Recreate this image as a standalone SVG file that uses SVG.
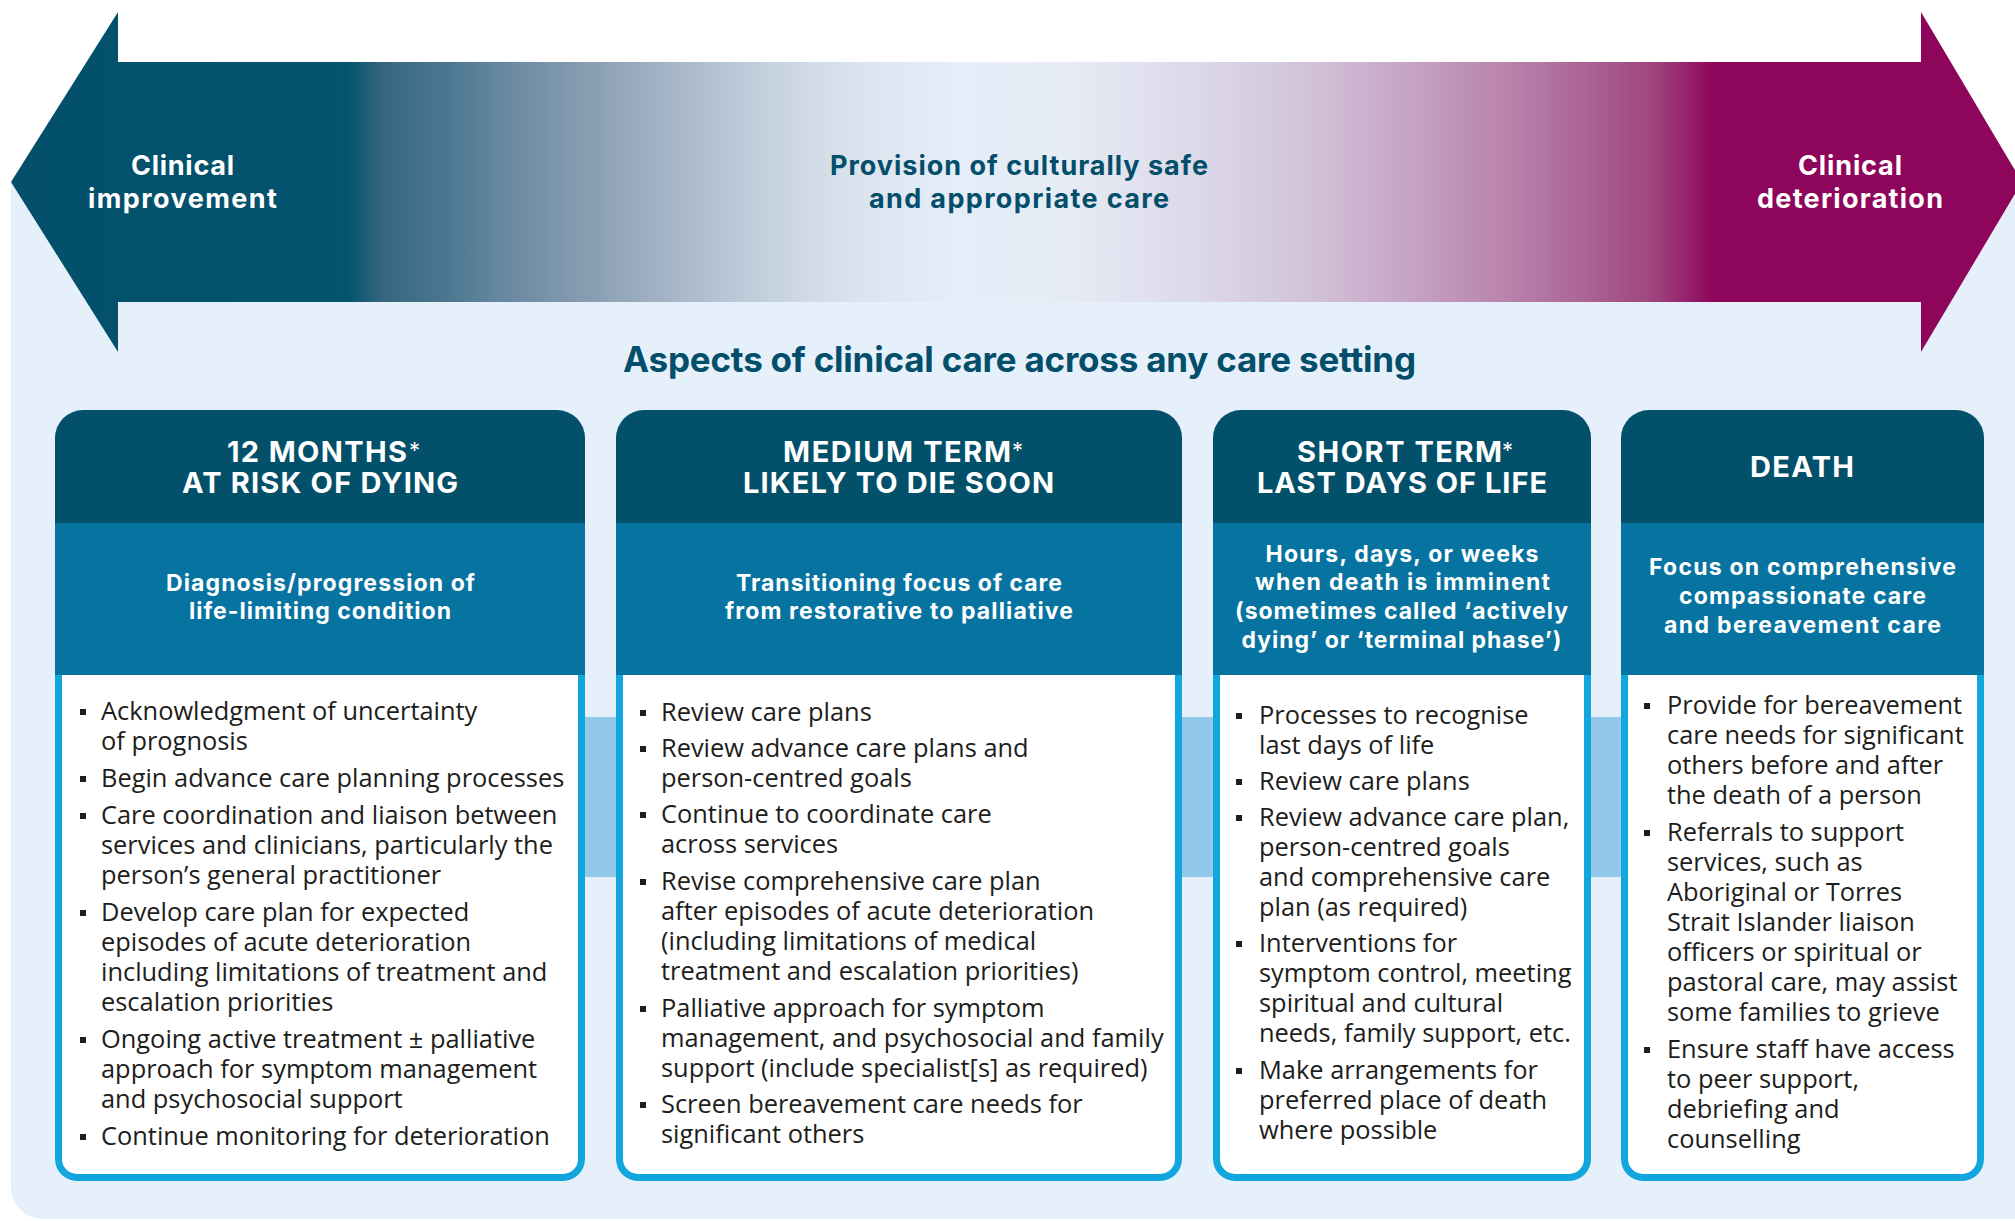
<svg xmlns="http://www.w3.org/2000/svg" width="2015" height="1221" viewBox="0 0 2015 1221">
<defs>
<linearGradient id="band" gradientUnits="userSpaceOnUse" x1="0" y1="0" x2="2015" y2="0">
<stop offset="0" stop-color="#034f69"/>
<stop offset="0.1727" stop-color="#03546f"/>
<stop offset="0.19" stop-color="#36677f"/>
<stop offset="0.2213" stop-color="#4c7690"/>
<stop offset="0.2531" stop-color="#6a8aa2"/>
<stop offset="0.2849" stop-color="#8399ae"/>
<stop offset="0.3166" stop-color="#9aabbf"/>
<stop offset="0.3484" stop-color="#b0bfcf"/>
<stop offset="0.3797" stop-color="#c5d0de"/>
<stop offset="0.4114" stop-color="#d5dfea"/>
<stop offset="0.4432" stop-color="#dfe7f2"/>
<stop offset="0.4749" stop-color="#e5edf8"/>
<stop offset="0.5285" stop-color="#e6ecf6"/>
<stop offset="0.5603" stop-color="#e2e3f0"/>
<stop offset="0.5926" stop-color="#dcd9e9"/>
<stop offset="0.6248" stop-color="#d6cde0"/>
<stop offset="0.6571" stop-color="#d0bfd6"/>
<stop offset="0.6888" stop-color="#c9aacb"/>
<stop offset="0.7211" stop-color="#c095b9"/>
<stop offset="0.7533" stop-color="#b77fa9"/>
<stop offset="0.7851" stop-color="#ab6596"/>
<stop offset="0.8174" stop-color="#a04880"/>
<stop offset="0.8337" stop-color="#982b70"/>
<stop offset="0.8496" stop-color="#8e065c"/>
<stop offset="1" stop-color="#8e065c"/>
</linearGradient>
<style>
.hd{fill:#03506a}
.sub{fill:#0673a0}
.brd{fill:#11a7de}
.wht{fill:#ffffff}
.cn{fill:#93c8eb}
.bul{fill:#1d1d1b}
.h1{font-family:Inter,"Liberation Sans",sans-serif;font-weight:700;font-size:29px;fill:#ffffff;text-anchor:middle}
.ast{font-family:Inter,"Liberation Sans",sans-serif;font-weight:400;font-size:22px;fill:#ffffff}
.h2{font-family:Inter,"Liberation Sans",sans-serif;font-weight:700;font-size:23px;fill:#ffffff;text-anchor:middle}
.body{font-family:"Open Sans","Liberation Sans",sans-serif;font-size:25.4px;fill:#1d1d1b}
.arw{font-family:Inter,"Liberation Sans",sans-serif;font-weight:700;font-size:27px;fill:#ffffff;text-anchor:middle}
.mid{font-family:Inter,"Liberation Sans",sans-serif;font-weight:700;font-size:27px;fill:#034e6a;text-anchor:middle}
.ttl{font-family:Inter,"Liberation Sans",sans-serif;font-weight:700;font-size:35px;fill:#034e6a;text-anchor:middle}
</style>
</defs>
<rect x="0" y="0" width="2015" height="1221" fill="#ffffff"/>
<path id="panel" d="M11,182 H2015 V1219 H43 A32 32 0 0 1 11,1187 Z" fill="#e6f0fa"/>

<g id="arrow">
<polygon points="11,182 118,12 118,62 1921,62 1921,12 2022,182 1921,352 1921,302 118,302 118,352" fill="url(#band)"/>
<text class="arw"><tspan x="182.5" y="175" textLength="103">Clinical</tspan><tspan x="182.5" y="208" textLength="189">improvement</tspan></text>
<text class="mid"><tspan x="1019" y="175" textLength="378">Provision of culturally safe</tspan><tspan x="1019" y="208" textLength="300">and appropriate care</tspan></text>
<text class="arw"><tspan x="1850" y="175" textLength="104">Clinical</tspan><tspan x="1850" y="208" textLength="186">deterioration</tspan></text>
</g>

<text id="title" class="ttl" x="1019.5" y="372" textLength="793">Aspects of clinical care across any care setting</text>

<g id="connectors">
<rect class="cn" x="580" y="717" width="41" height="160"/>
<rect class="cn" x="1177" y="717" width="41" height="160"/>
<rect class="cn" x="1586" y="717" width="40" height="160"/>
</g>

<g id="card1">
<path class="hd" d="M55,523 V438 A28 28 0 0 1 83,410 H557 A28 28 0 0 1 585,438 V523 Z"/>
<rect class="sub" x="55" y="523" width="530" height="152"/>
<path class="brd" d="M55,675 V1159 A22 22 0 0 0 77,1181 H563 A22 22 0 0 0 585,1159 V675 Z"/>
<path class="wht" d="M62,675 V1159 A15 15 0 0 0 77,1174 H563 A15 15 0 0 0 578,1159 V675 Z"/>
<text class="h1" x="317" y="462" textLength="180">12 MONTHS</text>
<text class="ast" x="409" y="458">*</text>
<text class="h1" x="320" y="493" textLength="276">AT RISK OF DYING</text>
<text class="h2"><tspan x="320.5" y="591" textLength="309">Diagnosis/progression of</tspan><tspan x="320" y="619" textLength="262">life-limiting condition</tspan></text>
<rect class="bul" x="80" y="709" width="6" height="6"/>
<rect class="bul" x="80" y="776" width="6" height="6"/>
<rect class="bul" x="80" y="813" width="6" height="6"/>
<rect class="bul" x="80" y="910" width="6" height="6"/>
<rect class="bul" x="80" y="1037" width="6" height="6"/>
<rect class="bul" x="80" y="1134" width="6" height="6"/>
<text class="body">
<tspan x="101" y="720">Acknowledgment of uncertainty</tspan>
<tspan x="101" y="750">of prognosis</tspan>
<tspan x="101" y="787">Begin advance care planning processes</tspan>
<tspan x="101" y="824">Care coordination and liaison between</tspan>
<tspan x="101" y="854">services and clinicians, particularly the</tspan>
<tspan x="101" y="884">person’s general practitioner</tspan>
<tspan x="101" y="921">Develop care plan for expected</tspan>
<tspan x="101" y="951">episodes of acute deterioration</tspan>
<tspan x="101" y="981">including limitations of treatment and</tspan>
<tspan x="101" y="1011">escalation priorities</tspan>
<tspan x="101" y="1048">Ongoing active treatment ± palliative</tspan>
<tspan x="101" y="1078">approach for symptom management</tspan>
<tspan x="101" y="1108">and psychosocial support</tspan>
<tspan x="101" y="1145">Continue monitoring for deterioration</tspan>
</text>
</g>

<g id="card2">
<path class="hd" d="M616,523 V438 A28 28 0 0 1 644,410 H1154 A28 28 0 0 1 1182,438 V523 Z"/>
<rect class="sub" x="616" y="523" width="566" height="152"/>
<path class="brd" d="M616,675 V1159 A22 22 0 0 0 638,1181 H1160 A22 22 0 0 0 1182,1159 V675 Z"/>
<path class="wht" d="M623,675 V1159 A15 15 0 0 0 638,1174 H1160 A15 15 0 0 0 1175,1159 V675 Z"/>
<text class="h1" x="897" y="462" textLength="228">MEDIUM TERM</text>
<text class="ast" x="1012" y="458">*</text>
<text class="h1" x="898.5" y="493" textLength="311">LIKELY TO DIE SOON</text>
<text class="h2"><tspan x="899" y="591" textLength="326">Transitioning focus of care</tspan><tspan x="899" y="619" textLength="348">from restorative to palliative</tspan></text>
<rect class="bul" x="640" y="710" width="6" height="6"/>
<rect class="bul" x="640" y="746" width="6" height="6"/>
<rect class="bul" x="640" y="812" width="6" height="6"/>
<rect class="bul" x="640" y="879" width="6" height="6"/>
<rect class="bul" x="640" y="1006" width="6" height="6"/>
<rect class="bul" x="640" y="1102" width="6" height="6"/>
<text class="body">
<tspan x="661" y="721">Review care plans</tspan>
<tspan x="661" y="757">Review advance care plans and</tspan>
<tspan x="661" y="787">person-centred goals</tspan>
<tspan x="661" y="823">Continue to coordinate care</tspan>
<tspan x="661" y="853">across services</tspan>
<tspan x="661" y="890">Revise comprehensive care plan</tspan>
<tspan x="661" y="920">after episodes of acute deterioration</tspan>
<tspan x="661" y="950">(including limitations of medical</tspan>
<tspan x="661" y="980">treatment and escalation priorities)</tspan>
<tspan x="661" y="1017">Palliative approach for symptom</tspan>
<tspan x="661" y="1047">management, and psychosocial and family</tspan>
<tspan x="661" y="1077">support (include specialist[s] as required)</tspan>
<tspan x="661" y="1113">Screen bereavement care needs for</tspan>
<tspan x="661" y="1143">significant others</tspan>
</text>
</g>

<g id="card3">
<path class="hd" d="M1213,523 V438 A28 28 0 0 1 1241,410 H1563 A28 28 0 0 1 1591,438 V523 Z"/>
<rect class="sub" x="1213" y="523" width="378" height="152"/>
<path class="brd" d="M1213,675 V1159 A22 22 0 0 0 1235,1181 H1569 A22 22 0 0 0 1591,1159 V675 Z"/>
<path class="wht" d="M1220,675 V1159 A15 15 0 0 0 1235,1174 H1569 A15 15 0 0 0 1584,1159 V675 Z"/>
<text class="h1" x="1399.5" y="462" textLength="205">SHORT TERM</text>
<text class="ast" x="1502" y="458">*</text>
<text class="h1" x="1402" y="493" textLength="290">LAST DAYS OF LIFE</text>
<text class="h2"><tspan x="1402" y="562" textLength="273">Hours, days, or weeks</tspan><tspan x="1402.5" y="590" textLength="295">when death is imminent</tspan><tspan x="1401.5" y="619" textLength="333">(sometimes called ‘actively</tspan><tspan x="1401.5" y="648" textLength="320">dying’ or ‘terminal phase’)</tspan></text>
<rect class="bul" x="1236" y="713" width="6" height="6"/>
<rect class="bul" x="1236" y="779" width="6" height="6"/>
<rect class="bul" x="1236" y="815" width="6" height="6"/>
<rect class="bul" x="1236" y="941" width="6" height="6"/>
<rect class="bul" x="1236" y="1068" width="6" height="6"/>
<text class="body">
<tspan x="1259" y="724">Processes to recognise</tspan>
<tspan x="1259" y="754">last days of life</tspan>
<tspan x="1259" y="790">Review care plans</tspan>
<tspan x="1259" y="826">Review advance care plan,</tspan>
<tspan x="1259" y="856">person-centred goals</tspan>
<tspan x="1259" y="886">and comprehensive care</tspan>
<tspan x="1259" y="916">plan (as required)</tspan>
<tspan x="1259" y="952">Interventions for</tspan>
<tspan x="1259" y="982">symptom control, meeting</tspan>
<tspan x="1259" y="1012">spiritual and cultural</tspan>
<tspan x="1259" y="1042">needs, family support, etc.</tspan>
<tspan x="1259" y="1079">Make arrangements for</tspan>
<tspan x="1259" y="1109">preferred place of death</tspan>
<tspan x="1259" y="1139">where possible</tspan>
</text>
</g>

<g id="card4">
<path class="hd" d="M1621,523 V438 A28 28 0 0 1 1649,410 H1956 A28 28 0 0 1 1984,438 V523 Z"/>
<rect class="sub" x="1621" y="523" width="363" height="152"/>
<path class="brd" d="M1621,675 V1159 A22 22 0 0 0 1643,1181 H1962 A22 22 0 0 0 1984,1159 V675 Z"/>
<path class="wht" d="M1628,675 V1159 A15 15 0 0 0 1643,1174 H1962 A15 15 0 0 0 1977,1159 V675 Z"/>
<text class="h1" x="1802" y="477" textLength="104">DEATH</text>
<text class="h2"><tspan x="1802.5" y="575" textLength="307">Focus on comprehensive</tspan><tspan x="1802.5" y="604" textLength="247">compassionate care</tspan><tspan x="1802.5" y="633" textLength="277">and bereavement care</tspan></text>
<rect class="bul" x="1644" y="703" width="6" height="6"/>
<rect class="bul" x="1644" y="830" width="6" height="6"/>
<rect class="bul" x="1644" y="1047" width="6" height="6"/>
<text class="body">
<tspan x="1667" y="714">Provide for bereavement</tspan>
<tspan x="1667" y="744">care needs for significant</tspan>
<tspan x="1667" y="774">others before and after</tspan>
<tspan x="1667" y="804">the death of a person</tspan>
<tspan x="1667" y="841">Referrals to support</tspan>
<tspan x="1667" y="871">services, such as</tspan>
<tspan x="1667" y="901">Aboriginal or Torres</tspan>
<tspan x="1667" y="931">Strait Islander liaison</tspan>
<tspan x="1667" y="961">officers or spiritual or</tspan>
<tspan x="1667" y="991">pastoral care, may assist</tspan>
<tspan x="1667" y="1021">some families to grieve</tspan>
<tspan x="1667" y="1058">Ensure staff have access</tspan>
<tspan x="1667" y="1088">to peer support,</tspan>
<tspan x="1667" y="1118">debriefing and</tspan>
<tspan x="1667" y="1148">counselling</tspan>
</text>
</g>
</svg>
